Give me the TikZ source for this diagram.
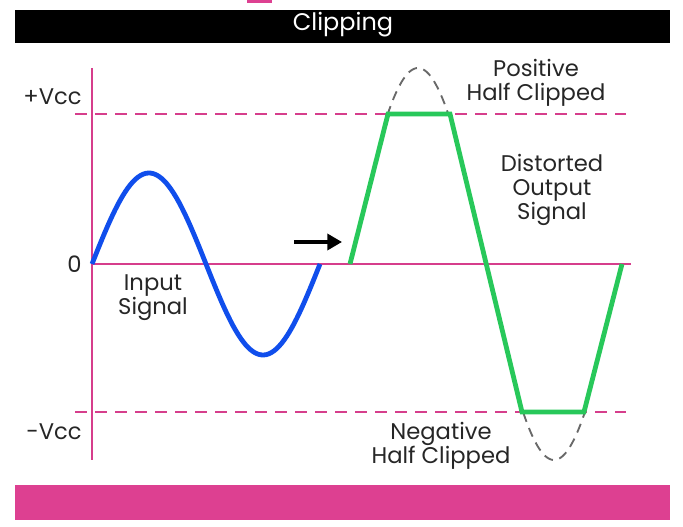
\documentclass[tikz,border=0pt]{standalone}
\usepackage{fontspec}
\setmainfont{Poppins}
\usetikzlibrary{arrows.meta, positioning}
\definecolor{axispink}{RGB}{214, 62, 140}
\definecolor{barpink}{RGB}{221, 64, 145}
\definecolor{inblue}{RGB}{16, 78, 236}
\definecolor{outgreen}{RGB}{40, 200, 90}
\definecolor{ghostgray}{RGB}{105, 105, 105}
\tikzset{
  axisline/.style   = {axispink, line width=1.6pt},
  railline/.style   = {axispink, line width=1.6pt, dash pattern=on 9pt off 6pt},
  inwave/.style     = {inblue, line width=3.6pt, line join=round},
  outwave/.style    = {outgreen, line width=3.6pt, line join=miter},
  ghostwave/.style  = {ghostgray, line width=1.4pt, dash pattern=on 7pt off 5pt},
  lbl/.style        = {font=\fontsize{17}{18}\selectfont, align=center, inner sep=0pt, text=black!85},
  axlbl/.style      = {font=\fontsize{17}{18}\selectfont, inner sep=0pt, text=black!85},
}
\begin{document}
\begin{tikzpicture}[x=0.75pt, y=-0.75pt]

\useasboundingbox (0,0) rectangle (683,527);

% title bar
\fill[black] (15,10) rectangle (670,43);
\node[font=\fontsize{18}{20}\selectfont, text=white, inner sep=0pt] (title) at (343,25) {Clipping};
\fill[barpink] (247,0) rectangle (272,3);

% bottom band
\fill[barpink] (15,485) rectangle (670,520);

% axes and supply rails
\draw[railline] (75,114) -- (626,114);
\draw[railline] (75,412) -- (626,412);
\draw[axisline] (92,68) -- (92,460);
\draw[axisline] (92,264) -- (631,264);

\node[axlbl, anchor=east] (vplus) at (82,97) {+Vcc};
\node[axlbl, anchor=east] (vzero) at (82,264) {0};
\node[axlbl, anchor=east] (vminus) at (82,432) {-Vcc};

% input signal
\draw[inwave] plot[domain=0:360, samples=90] ({92+\x/360*228},{264-91*sin(\x)});
\node[lbl] (inlbl) at (153,298) {Input\\Signal};

% arrow between the two
\coordinate (arrS) at (294,242);
\coordinate (arrE) at (342,242);
\draw[-{Triangle[length=11pt,width=12pt]}, line width=2.6pt] (arrS) -- (arrE);

% ideal sine behind the clipped output
\draw[ghostwave] plot[domain=49.5:130.5, samples=40] ({350+\x/360*272},{264-196*sin(\x)});
\draw[ghostwave] plot[domain=229.5:310.5, samples=40] ({350+\x/360*272},{264-196*sin(\x)});

% clipped output
\coordinate (o0) at (350,264);
\coordinate (o1) at (388,114);
\coordinate (o2) at (450,114);
\coordinate (o3) at (522,412);
\coordinate (o4) at (584,412);
\coordinate (o5) at (622,264);
\draw[outwave] (o0) -- (o1) -- (o2) -- (o3) -- (o4) -- (o5);

\node[lbl] (poslbl) at (536,83) {Positive\\Half Clipped};
\node[lbl] (distlbl) at (552,190) {Distorted\\Output\\Signal};
\node[lbl] (neglbl) at (441,446) {Negative\\Half Clipped};

\end{tikzpicture}
\end{document}
